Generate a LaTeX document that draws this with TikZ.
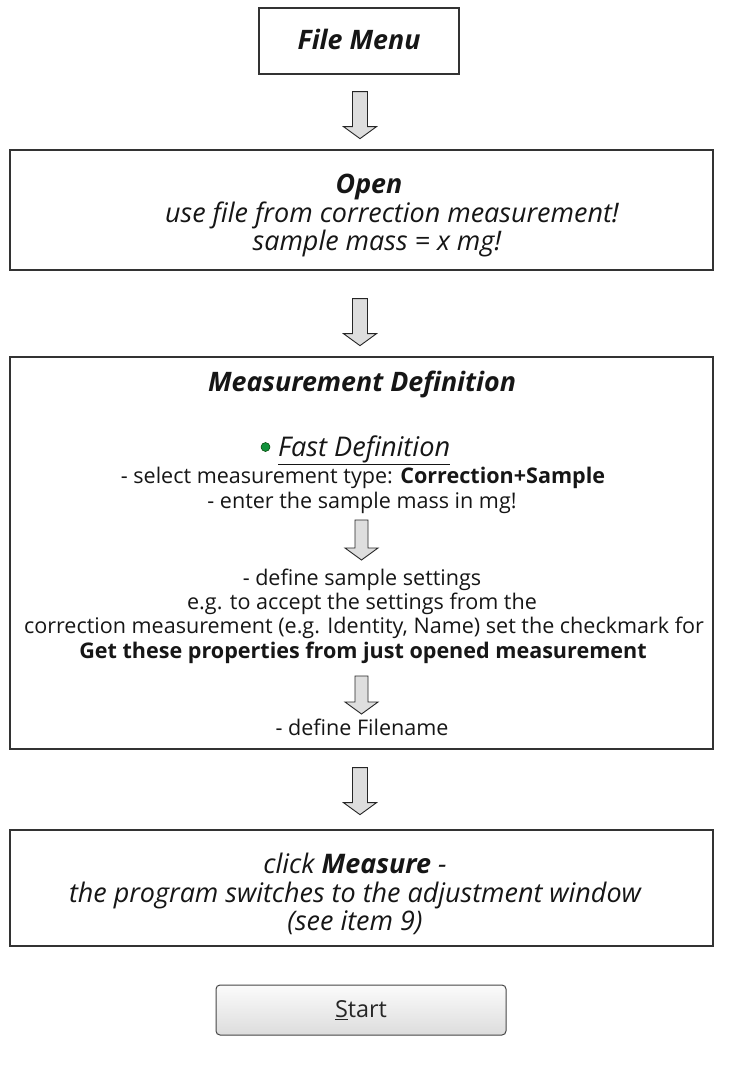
\documentclass[tikz,border=0pt]{standalone}
\usepackage{fontspec}
\setmainfont{Open Sans}
\usetikzlibrary{calc}
\definecolor{boxline}{HTML}{333333}
\definecolor{arrowfill}{HTML}{DEDEDE}
\definecolor{dotgreen}{HTML}{12923C}
\definecolor{inkc}{HTML}{161616}
\newlength\tmpw
\newcommand{\blockarrow}[3]{% top coordinate, shaft half width, length
  \draw[bigarrow, shift={(#1)}] (-#2,0) -- (#2,0) -- (#2,#3-12) -- (16.5,#3-12)
    -- (0,#3) -- (-16.5,#3-12) -- (-#2,#3-12) -- cycle;}
\tikzset{
  flowbox/.style={draw=boxline, line width=1.3pt, fill=white, inner sep=0pt},
  bigarrow/.style={draw=black!85, line width=0.9pt, fill=arrowfill, line join=miter},
  startbtn/.style={draw=gray!55!black, line width=1pt, rounded corners=4pt,
    top color=white!97!gray, bottom color=gray!27, inner sep=0pt},
  txt/.style={anchor=base, inner sep=0pt, text=inkc, font=\fontsize{\regsz}{25}\selectfont},
  itxt/.style={anchor=base, inner sep=0pt, text=inkc, font=\fontsize{\itsz}{25}\selectfont\itshape},
  ttl/.style={anchor=base, inner sep=0pt, text=inkc, font=\fontsize{\ttsz}{25}\selectfont\bfseries\itshape},
}
\begin{document}
\settowidth\tmpw{\fontsize{20}{24}\selectfont correction measurement (e.g. Identity, Name) set the checkmark for}%
\pgfmathsetmacro\regsz{20*680/\tmpw}%
\settowidth\tmpw{\fontsize{20}{24}\selectfont\itshape the program switches to the adjustment window}%
\pgfmathsetmacro\itsz{20*572/\tmpw}%
\settowidth\tmpw{\fontsize{20}{24}\selectfont\bfseries\itshape Measurement Definition}%
\pgfmathsetmacro\ttsz{20*308/\tmpw}%
\settowidth\tmpw{\fontsize{20}{24}\selectfont\itshape Fast Definition}%
\pgfmathsetmacro\fdsz{20*172/\tmpw}%
\settowidth\tmpw{\fontsize{20}{24}\selectfont Start}%
\pgfmathsetmacro\stsz{20*52/\tmpw}%
\begin{tikzpicture}[x=1pt,y=-1pt]
\useasboundingbox (0,0) rectangle (754,1081);
\fill[white] (0,0) rectangle (754,1081);

% boxes
\node[flowbox, minimum width=200pt, minimum height=66pt] (fm) at (359,41) {};
\node[flowbox, minimum width=703pt, minimum height=120pt] (op) at (361.5,210) {};
\node[flowbox, minimum width=703pt, minimum height=392pt] (md) at (361.5,553) {};
\node[flowbox, minimum width=703pt, minimum height=116pt] (ms) at (361.5,888) {};
\node[startbtn, minimum width=290pt, minimum height=50pt] (st) at (361,1010) {};

% texts
\node[ttl] (tfm) at (359,49) {File Menu};

\node[ttl] (top) at (369,193) {Open};
\node[itxt] (tuse) at (392,222) {use file from correction measurement!};
\node[itxt] (tsm) at (377,250) {sample mass = x mg!};

\node[ttl] (tmd) at (362,391) {Measurement Definition};
\fill[dotgreen, draw=green!25!black, line width=0.5pt] (265.5,447) circle (4.5pt);
\node[anchor=base west, inner sep=0pt, text=inkc, font=\fontsize{\fdsz}{25}\selectfont\itshape] (tfd) at (278,456) {\underline{Fast Definition}};
\node[txt] (tsel) at (363,483) {- select measurement type: \textbf{Correction+Sample}};
\node[txt] (tent) at (362,508) {- enter the sample mass in mg!};
\node[txt] (tdss) at (362,585) {- define sample settings};
\node[txt] (teg) at (362,609) {e.g. to accept the settings from the};
\node[txt] (tcor) at (364,633) {correction measurement (e.g. Identity, Name) set the checkmark for};
\node[txt, font=\fontsize{\regsz}{25}\selectfont\bfseries] (tget) at (363,658) {Get these properties from just opened measurement};
\node[txt] (tdf) at (362,735) {- define Filename};

\node[itxt] (tclk) at (355,873) {click \textbf{Measure} -};
\node[itxt] (tprg) at (355,902) {the program switches to the adjustment window};
\node[itxt] (tsee) at (355,930) {(see item 9)};

\node[inner sep=0pt, text=black!85, font=\fontsize{\stsz}{20}\selectfont] (tst) at (st.center) {\underline{S}tart};

% connectors (block arrows)
\coordinate (a1) at ($(fm.south)+(1,17)$);
\coordinate (a2) at ($(op.south)+(-1.5,28)$);
\coordinate (a3) at ($(md.south)+(-1.5,18)$);
\coordinate (s1) at ($(tent.base -| md.north)+(0,12)$);
\coordinate (s2) at ($(tget.base -| md.north)+(0,18)$);
\blockarrow{a1}{7.5}{47}
\blockarrow{a2}{7.5}{47}
\blockarrow{a3}{7.5}{47}
\blockarrow{s1}{6.5}{40}
\blockarrow{s2}{6.5}{38}
\end{tikzpicture}
\end{document}
